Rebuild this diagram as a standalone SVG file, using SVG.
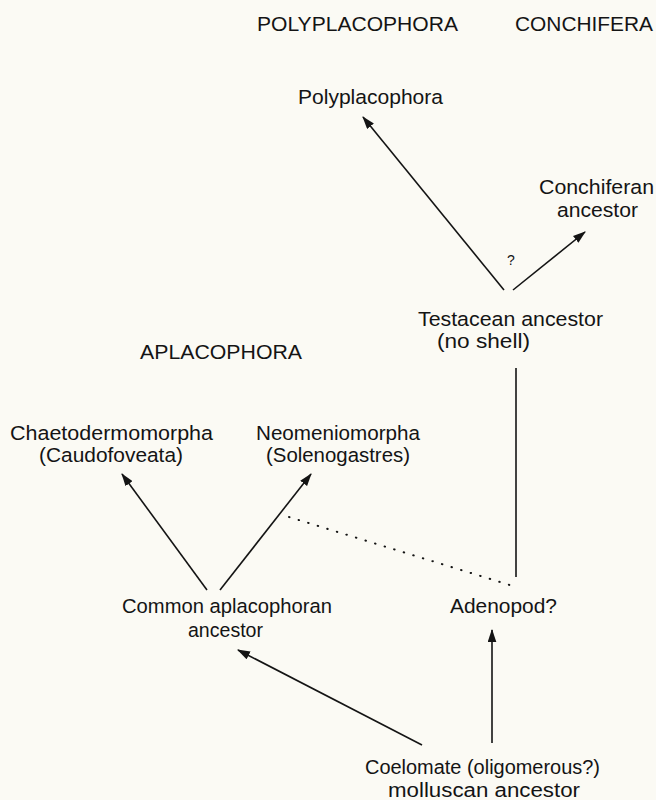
<svg xmlns="http://www.w3.org/2000/svg" width="656" height="800" viewBox="0 0 656 800">
<style>
text{font-family:"Liberation Sans",Arial,Helvetica,sans-serif;font-size:20.5px;fill:#141414}
.ln{stroke:#141414;stroke-width:1.6;fill:none}
.dot{stroke:#141414;stroke-width:2;fill:none;stroke-dasharray:0.5 9.5;stroke-linecap:round}
</style>
<defs>
<marker id="ah" viewBox="0 0 12 8" refX="11" refY="4" markerWidth="13" markerHeight="9" markerUnits="userSpaceOnUse" orient="auto">
<path d="M0,0 L12,4 L0,8 Z" fill="#141414"/>
</marker>
</defs>
<rect width="656" height="800" fill="#fbfaf4"/>
<g id="headers">
<text x="257" y="31" textLength="201" lengthAdjust="spacingAndGlyphs">POLYPLACOPHORA</text>
<text x="515" y="31" textLength="138" lengthAdjust="spacingAndGlyphs">CONCHIFERA</text>
<text x="140" y="359" textLength="162" lengthAdjust="spacingAndGlyphs">APLACOPHORA</text>
</g>
<g id="polyplacophora">
<text x="298" y="104" textLength="145" lengthAdjust="spacingAndGlyphs">Polyplacophora</text>
</g>
<g id="conchiferan">
<text x="539" y="194" textLength="115" lengthAdjust="spacingAndGlyphs">Conchiferan</text>
<text x="557" y="217" textLength="81" lengthAdjust="spacingAndGlyphs">ancestor</text>
</g>
<g id="testacean">
<text x="418" y="326" textLength="185" lengthAdjust="spacingAndGlyphs">Testacean ancestor</text>
<text x="437" y="348" textLength="93" lengthAdjust="spacingAndGlyphs">(no shell)</text>
</g>
<g id="chaetodermomorpha">
<text x="10" y="440" textLength="203" lengthAdjust="spacingAndGlyphs">Chaetodermomorpha</text>
<text x="39" y="462" textLength="144" lengthAdjust="spacingAndGlyphs">(Caudofoveata)</text>
</g>
<g id="neomeniomorpha">
<text x="256" y="440" textLength="164" lengthAdjust="spacingAndGlyphs">Neomeniomorpha</text>
<text x="266" y="462" textLength="144" lengthAdjust="spacingAndGlyphs">(Solenogastres)</text>
</g>
<g id="common">
<text x="122" y="613" textLength="210" lengthAdjust="spacingAndGlyphs">Common aplacophoran</text>
<text x="188" y="637" textLength="75" lengthAdjust="spacingAndGlyphs">ancestor</text>
</g>
<g id="adenopod">
<text x="450" y="613" textLength="107" lengthAdjust="spacingAndGlyphs">Adenopod?</text>
</g>
<g id="coelomate" style="font-size:20px">
<text x="365" y="774" textLength="235" lengthAdjust="spacingAndGlyphs" style="font-size:20px">Coelomate (oligomerous?)</text>
<text x="388" y="797" textLength="192" lengthAdjust="spacingAndGlyphs" style="font-size:20px">molluscan ancestor</text>
</g>
<g id="connectors">
<line class="ln" x1="504" y1="290" x2="363" y2="117" marker-end="url(#ah)"/>
<line class="ln" x1="513" y1="290" x2="585" y2="232" marker-end="url(#ah)"/>
<text x="507" y="265" style="font-size:14px">?</text>
<line class="ln" x1="516" y1="368" x2="516" y2="577"/>
<line class="dot" x1="289" y1="517" x2="513" y2="586"/>
<line class="ln" x1="207" y1="590" x2="122" y2="474" marker-end="url(#ah)"/>
<line class="ln" x1="220" y1="590" x2="311" y2="474" marker-end="url(#ah)"/>
<line class="ln" x1="422" y1="745" x2="238" y2="650" marker-end="url(#ah)"/>
<line class="ln" x1="492" y1="743" x2="492" y2="630" marker-end="url(#ah)"/>
</g>
</svg>
